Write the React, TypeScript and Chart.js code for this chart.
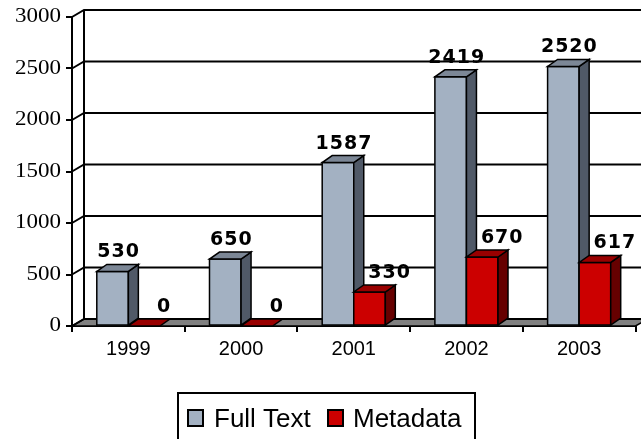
import React, { useEffect, useRef } from "react";
import { Chart, registerables } from "chart.js";

Chart.register(...registerables);

const years = ["1999", "2000", "2001", "2002", "2003"];
const fullText = [530, 650, 1587, 2419, 2520];
const metadata = [0, 0, 330, 670, 617];
const yTicks = [0, 500, 1000, 1500, 2000, 2500, 3000];
const seriesNames = ["Full Text", "Metadata"];

const FRONT = ["#A3B1C2", "#CC0000"];
const SIDE = ["#505967", "#660000"];
const TOP = ["#7C8796", "#990000"];

const BAR_DX = 10;
const BAR_DY = 7;
const WALL_DX = 12;
const WALL_DY = 7;
const LABEL_DX = [6, 20];
const LABEL_DY = 14;

const threeD = {
  id: "threeD",
  beforeDatasetsDraw(chart: any) {
    const { ctx, chartArea } = chart;
    const y = chart.scales.y;
    const left = chartArea.left;
    const right = chartArea.right;
    const y0 = y.getPixelForValue(0);
    ctx.save();
    // floor
    ctx.beginPath();
    ctx.moveTo(left, y0);
    ctx.lineTo(right, y0);
    ctx.lineTo(right + WALL_DX, y0 - WALL_DY);
    ctx.lineTo(left + WALL_DX, y0 - WALL_DY);
    ctx.closePath();
    ctx.fillStyle = "#808080";
    ctx.fill();
    ctx.lineWidth = 1.5;
    ctx.strokeStyle = "#000";
    ctx.stroke();
    // back wall grid lines + side wall diagonals
    ctx.lineWidth = 2;
    for (const v of yTicks) {
      const yy = y.getPixelForValue(v);
      ctx.beginPath();
      ctx.moveTo(left, yy);
      ctx.lineTo(left + WALL_DX, yy - WALL_DY);
      ctx.lineTo(right + WALL_DX + 20, yy - WALL_DY);
      ctx.stroke();
    }
    ctx.beginPath();
    ctx.moveTo(left + WALL_DX, y0 - WALL_DY);
    ctx.lineTo(left + WALL_DX, y.getPixelForValue(3000) - WALL_DY);
    ctx.stroke();
    // y labels
    ctx.fillStyle = "#000";
    ctx.font = "20px 'Liberation Serif'";
    ctx.textAlign = "right";
    ctx.textBaseline = "middle";
    for (const v of yTicks) {
      const yy = y.getPixelForValue(v);
      ctx.save();
      ctx.translate(left - 11, yy);
      ctx.scale(1.15, 1);
      ctx.fillText(String(v), 0, 0);
      ctx.restore();
    }
    ctx.restore();
  },
  afterDatasetsDraw(chart: any) {
    const { ctx } = chart;
    const n = chart.data.labels.length;
    ctx.save();
    ctx.lineWidth = 1.5;
    ctx.strokeStyle = "#000";
    ctx.lineJoin = "miter";
    for (let i = 0; i < n; i++) {
      for (let d = 0; d < chart.data.datasets.length; d++) {
        const el = chart.getDatasetMeta(d).data[i];
        const { x, y, base, width } = el.getProps(["x", "y", "base", "width"], true);
        const x0 = x - width / 2;
        const x1 = x + width / 2;
        // front
        ctx.fillStyle = FRONT[d];
        ctx.beginPath();
        ctx.rect(x0, y, width, base - y);
        ctx.fill();
        if (base - y > 0.5) ctx.stroke();
        // side
        ctx.fillStyle = SIDE[d];
        ctx.beginPath();
        ctx.moveTo(x1, y);
        ctx.lineTo(x1 + BAR_DX, y - BAR_DY);
        ctx.lineTo(x1 + BAR_DX, base - BAR_DY);
        ctx.lineTo(x1, base);
        ctx.closePath();
        ctx.fill();
        if (base - y > 0.5) ctx.stroke();
        // top
        ctx.fillStyle = TOP[d];
        ctx.beginPath();
        ctx.moveTo(x0, y);
        ctx.lineTo(x1, y);
        ctx.lineTo(x1 + BAR_DX, y - BAR_DY);
        ctx.lineTo(x0 + BAR_DX, y - BAR_DY);
        ctx.closePath();
        ctx.fill();
        ctx.stroke();
      }
    }
    // data labels
    ctx.fillStyle = "#000";
    ctx.font = "bold 19px 'DejaVu Sans'";
    (ctx as any).letterSpacing = "1px";
    ctx.textAlign = "center";
    ctx.textBaseline = "alphabetic";
    for (let d = 0; d < chart.data.datasets.length; d++) {
      const meta = chart.getDatasetMeta(d);
      meta.data.forEach((el: any, i: number) => {
        const { x, y } = el.getProps(["x", "y"], true);
        ctx.fillText(String(chart.data.datasets[d].data[i]), x + LABEL_DX[d], y - LABEL_DY);
      });
    }
    (ctx as any).letterSpacing = "0px";
    ctx.restore();
  },
  afterDraw(chart: any) {
    const { ctx } = chart;
    ctx.save();
    // legend box
    ctx.lineWidth = 2;
    ctx.strokeStyle = "#000";
    ctx.fillStyle = "#fff";
    ctx.beginPath();
    ctx.rect(178, 393, 297, 60);
    ctx.fill();
    ctx.stroke();
    const items = [
      { sx: 188, tx: 214 },
      { sx: 328, tx: 353 },
    ];
    ctx.font = "26px 'Liberation Sans'";
    ctx.textAlign = "left";
    ctx.textBaseline = "alphabetic";
    chart.data.datasets.forEach((ds: any, d: number) => {
      const it = items[d];
      ctx.fillStyle = FRONT[d];
      ctx.beginPath();
      ctx.rect(it.sx, 410, 15, 16);
      ctx.fill();
      ctx.stroke();
      ctx.fillStyle = "#000";
      ctx.fillText(ds.label, it.tx, 427);
    });
    ctx.restore();
  },
};

export default function App() {
  const ref = useRef<HTMLCanvasElement>(null);
  useEffect(() => {
    if (!ref.current) return;
    const chart = new Chart(ref.current, {
      type: "bar",
      data: {
        labels: years,
        datasets: [
          { label: seriesNames[0], data: fullText, backgroundColor: FRONT[0], borderWidth: 0, barPercentage: 1, categoryPercentage: 0.56 },
          { label: seriesNames[1], data: metadata, backgroundColor: FRONT[1], borderWidth: 0, barPercentage: 1, categoryPercentage: 0.56 },
        ],
      },
      options: {
        responsive: false,
        devicePixelRatio: 1,
        animation: false,
        layout: { padding: { top: 17, right: 5.5, left: 0, bottom: 0 } },
        plugins: { legend: { display: false }, tooltip: { enabled: false } },
        scales: {
          x: {
            offset: true,
            grid: { offset: true, drawOnChartArea: false, drawTicks: true, tickLength: 6, color: "#000", lineWidth: 2 },
            border: { display: true, color: "#000", width: 2 },
            ticks: { color: "#000", font: { family: "'Liberation Sans'", size: 20 }, padding: 5, maxRotation: 0 },
            afterFit: (s: any) => { s.height = 113; },
          },
          y: {
            min: 0,
            max: 3000,
            ticks: { display: false, stepSize: 500 },
            grid: { drawOnChartArea: false, drawTicks: true, tickLength: 6, color: "#000", lineWidth: 2 },
            border: { display: true, color: "#000", width: 2 },
            afterFit: (s: any) => { s.width = 72; },
          },
        },
      },
      plugins: [threeD],
    });
    return () => chart.destroy();
  }, []);
  return (
    <div style={{ position: "absolute", left: 0, top: 0, width: 641, height: 439, background: "#fff" }}>
      <canvas ref={ref} width={641} height={439} style={{ display: "block" }} />
    </div>
  );
}
